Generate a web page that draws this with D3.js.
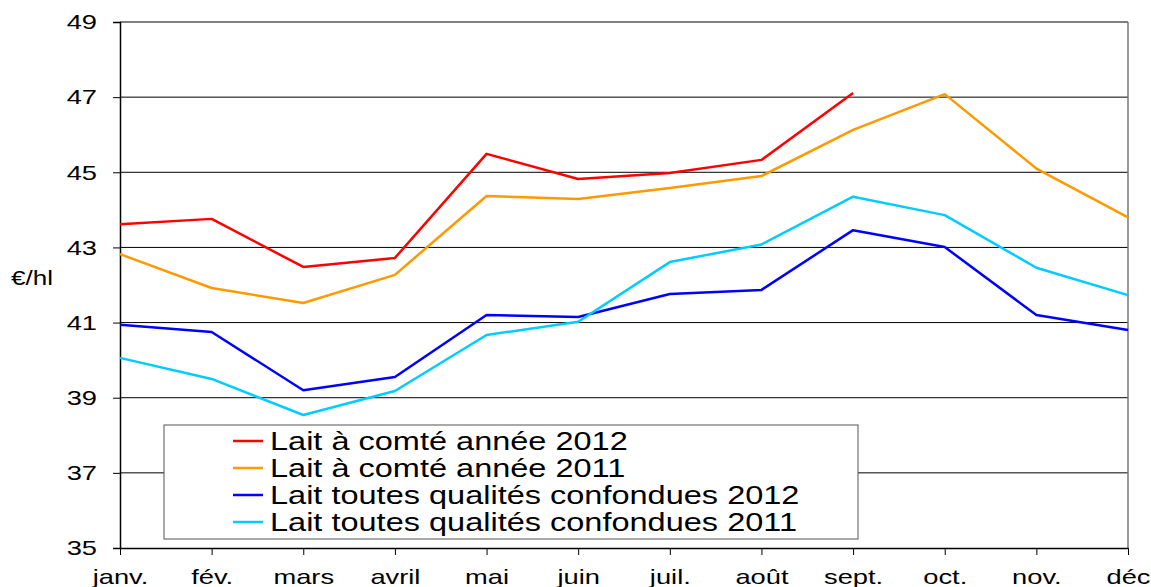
<!DOCTYPE html>
<html>
<head>
<meta charset="utf-8">
<script src="https://d3js.org/d3.v7.min.js"></script>
<style>
  body { margin: 0; background: #fff; }
  svg text { font-family: "Liberation Sans", Arial, sans-serif; fill: #000; }
</style>
</head>
<body>
<svg width="1151" height="587"></svg>
<script>
  var months = ["janv.", "fév.", "mars", "avril", "mai", "juin", "juil.", "août", "sept.", "oct.", "nov.", "déc"];
  var yTicks = [35, 37, 39, 41, 43, 45, 47, 49];

  var comte2012 = [43.62, 43.76, 42.48, 42.72, 45.49, 44.82, 44.98, 45.33, 47.11];
  var comte2011 = [42.82, 41.92, 41.52, 42.27, 44.37, 44.29, 44.58, 44.90, 46.13, 47.08, 45.10, 43.80];
  var toutes2012 = [40.94, 40.75, 39.20, 39.55, 41.20, 41.15, 41.76, 41.87, 43.46, 43.01, 41.20, 40.80];
  var toutes2011 = [40.06, 39.50, 38.54, 39.18, 40.67, 41.02, 42.61, 43.08, 44.35, 43.86, 42.46, 41.73];

  var series = [
    { name: "Lait à comté année 2012", color: "#ff0000", values: comte2012 },
    { name: "Lait à comté année 2011", color: "#ff9900", values: comte2011 },
    { name: "Lait toutes qualités confondues 2012", color: "#0000ff", values: toutes2012 },
    { name: "Lait toutes qualités confondues 2011", color: "#00ccff", values: toutes2011 }
  ];

  var svg = d3.select("svg");
  var m = { left: 120, right: 1128, top: 22, bottom: 548 };
  var stretch = 1.3; // the original text is drawn wide

  var x = d3.scalePoint().domain(months).range([m.left, m.right]);
  var y = d3.scaleLinear().domain([35, 49]).range([m.bottom, m.top]);

  // grid
  svg.append("g").selectAll("line")
    .data(yTicks.filter(function(d) { return d > 35; }))
    .enter().append("line")
    .attr("x1", m.left).attr("x2", m.right)
    .attr("y1", function(d) { return y(d); })
    .attr("y2", function(d) { return y(d); })
    .attr("stroke", "#000").attr("stroke-width", 1);

  // right border
  svg.append("line")
    .attr("x1", m.right).attr("x2", m.right).attr("y1", m.top).attr("y2", m.bottom)
    .attr("stroke", "#777").attr("stroke-width", 1.5);

  // y axis
  var yAxis = svg.append("g")
    .attr("transform", "translate(" + m.left + ",0)")
    .call(d3.axisLeft(y).tickValues(yTicks).tickSize(7).tickPadding(16));
  yAxis.select(".domain").attr("stroke", "#000").attr("stroke-width", 1.5);
  yAxis.selectAll("text").style("font-size", "21px")
    .style("font-family", "Liberation Sans, Arial, sans-serif");

  // x axis
  var xAxis = svg.append("g")
    .attr("transform", "translate(0," + m.bottom + ")")
    .call(d3.axisBottom(x).tickSize(7).tickPadding(14).tickSizeOuter(0));
  xAxis.select(".domain").attr("stroke", "#000").attr("stroke-width", 1.5);
  xAxis.selectAll("text").style("font-size", "21px")
    .style("font-family", "Liberation Sans, Arial, sans-serif");

  svg.append("text")
    .attr("x", 11).attr("y", 285)
    .style("font-size", "20px")
    .text("€/hl");

  // lines
  var line = d3.line()
    .x(function(d, i) { return x(months[i]); })
    .y(function(d) { return y(d); });

  svg.append("g").selectAll("path")
    .data(series)
    .enter().append("path")
    .attr("d", function(s) { return line(s.values); })
    .attr("fill", "none")
    .attr("stroke", function(s) { return s.color; })
    .attr("stroke-width", 2.5)
    .attr("stroke-linejoin", "round");

  // legend
  var lg = svg.append("g").attr("transform", "translate(164,425)");
  lg.append("rect")
    .attr("width", 694).attr("height", 114)
    .attr("fill", "#fff").attr("stroke", "#555").attr("stroke-width", 1);

  var item = lg.selectAll(".item")
    .data(series)
    .enter().append("g")
    .attr("class", "item")
    .attr("transform", function(d, i) { return "translate(0," + (16 + i * 27) + ")"; });

  item.append("line")
    .attr("x1", 69).attr("x2", 99)
    .attr("stroke", function(d) { return d.color; })
    .attr("stroke-width", 2.5);

  item.append("text")
    .attr("x", 106).attr("dy", "0.36em")
    .style("font-size", "25px")
    .text(function(d) { return d.name; });

  // widen all text like the source image
  svg.selectAll("text").each(function() {
    var w = this.getComputedTextLength();
    d3.select(this).attr("textLength", w * stretch).attr("lengthAdjust", "spacingAndGlyphs");
  });
</script>
</body>
</html>
